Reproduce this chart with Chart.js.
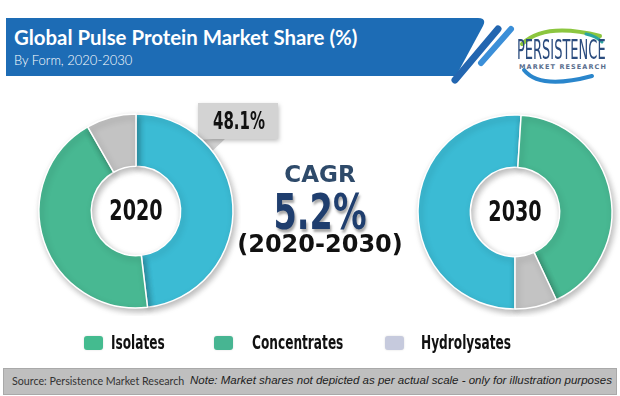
<!DOCTYPE html>
<html>
<head>
<meta charset="utf-8">
<script src="https://cdn.jsdelivr.net/npm/chart.js@4.4.1/dist/chart.umd.min.js"></script>
<style>
  html, body { margin: 0; padding: 0; background: #fff; }
  #wrap { position: relative; width: 620px; height: 396px; overflow: hidden; background: #fff; }
  .abs { position: absolute; white-space: nowrap; }
  canvas.ring { position: absolute; }
  .narrow { font-family: "DejaVu Sans", sans-serif; font-weight: bold; transform-origin: left top; }
  #title { left: 14px; top: 25px; color: #fff; font: bold 20.4px Lato, sans-serif; }
  #subtitle { left: 14px; top: 52px; color: #fff; font: 300 13px Lato, sans-serif; }
  #callout { left: 213px; top: 106px; font-size: 25px; color: #111; transform: scaleX(0.6); }
  #cagr { left: 240px; width: 160px; text-align: center; top: 161px; font: bold 23px "DejaVu Sans", sans-serif; color: #2e4a6a; }
  #rate { left: 240px; width: 160px; text-align: center; top: 183px; font-size: 50px; color: #1f3e6e; text-shadow: 2px 3px 3px rgba(0,0,0,0.35); transform: scaleX(0.67); transform-origin: center top; }
  #period { left: 220px; width: 200px; text-align: center; top: 230px; font: bold 24px "DejaVu Sans", sans-serif; color: #111; }
  .sw { position: absolute; width: 19px; height: 14px; border-radius: 3px; top: 336px; box-shadow: 0 0 2px rgba(0,0,0,0.15); }
  .lg { position: absolute; top: 331px; font-size: 19px; color: #111; transform: scaleX(0.64); }
  #footer { left: 3px; top: 368px; width: 612px; height: 25px; background: #bfbfbf; border: 1px solid #a9a9a9; }
  #src { left: 12px; top: 374px; font: 10.7px Lato, sans-serif; color: #333; }
  #note { left: 190px; top: 374px; font: italic 11.5px "Liberation Sans", sans-serif; color: #222; }
  #logo1 { left: 517px; top: 35px; font-size: 26px; color: #2b4c7e; font-weight: normal; transform: scaleX(0.5); }
  #logo2 { left: 519px; top: 63px; font: bold 6.5px "DejaVu Sans", sans-serif; color: #5a6e8e; letter-spacing: 1.1px; }
</style>
</head>
<body>
<div id="wrap">
  <svg class="abs" style="left:0;top:0" width="620" height="396">
    <path d="M6,18 L478,18 Q487,18 483,26 L456,76 L6,76 Z" fill="#1d6cb5"/>
    <line x1="455" y1="80" x2="498" y2="29" stroke="#2366b0" stroke-width="7" stroke-linecap="round"/>
    <line x1="481" y1="63" x2="511" y2="29" stroke="#3b8fd8" stroke-width="6" stroke-linecap="round"/>
    <path d="M522,44 Q545,22 600,36" fill="none" stroke="#8cc63f" stroke-width="4" stroke-linecap="round"/>
    <path d="M586,34 Q596,36 602,42" fill="none" stroke="#2aa5a0" stroke-width="3" stroke-linecap="round"/>
    <path d="M524,70 Q540,90 592,76" fill="none" stroke="#2a86cc" stroke-width="4" stroke-linecap="round"/>
    <path d="M200,140 L206,157 L226,138 Z" fill="#d3d3d3"/>
    <rect x="198" y="103" width="80" height="36" fill="#d3d3d3" style="filter: drop-shadow(1px 2px 2px rgba(0,0,0,0.25))"/>
  </svg>
  <div id="title" class="abs">Global Pulse Protein Market Share (%)</div>
  <div id="subtitle" class="abs">By Form, 2020-2030</div>
  <div id="logo1" class="abs narrow">PERSISTENCE</div>
  <div id="logo2" class="abs">MARKET RESEARCH</div>

  <canvas id="ring2020" class="ring" width="210" height="210" style="left:31px;top:106px"></canvas>
  <canvas id="ring2030" class="ring" width="210" height="210" style="left:410px;top:107px"></canvas>

  <div id="callout" class="abs narrow">48.1%</div>
  <div id="cagr" class="abs">CAGR</div>
  <div id="rate" class="abs narrow">5.2%</div>
  <div id="period" class="abs">(2020-2030)</div>

  <div class="sw" style="left:84px;background:#44bb8f"></div>
  <div class="lg narrow" style="left:111px">Isolates</div>
  <div class="sw" style="left:214px;background:#47b592"></div>
  <div class="lg narrow" style="left:252px">Concentrates</div>
  <div class="sw" style="left:385px;background:#c6cadd"></div>
  <div class="lg narrow" style="left:421px">Hydrolysates</div>

  <div id="footer" class="abs"></div>
  <div id="src" class="abs">Source: Persistence Market Research</div>
  <div id="note" class="abs">Note: Market shares not depicted as per actual scale - only for illustration purposes</div>
</div>
<script>
  // market share by form (%)
  const categories = ['Isolates', 'Concentrates', 'Hydrolysates'];
  const share2020 = [48.1, 43.6, 8.3];
  const share2030 = [51.0, 42.0, 7.0];
  const sliceColors = ['#3bbbd4', '#48b892', '#c3c3c3'];

  const ringShadow = {
    id: 'ringShadow',
    beforeDatasetsDraw: function (chart) {
      const c = chart.ctx;
      c.save();
      c.shadowColor = 'rgba(0,0,0,0.28)';
      c.shadowBlur = 6;
      c.shadowOffsetX = 2;
      c.shadowOffsetY = 3;
    },
    afterDatasetsDraw: function (chart) {
      chart.ctx.restore();
    }
  };

  // year in the hole, squeezed to look like a condensed face
  const centerLabel = {
    id: 'centerLabel',
    afterDraw: function (chart, args, opts) {
      const arc = chart.getDatasetMeta(0).data[0];
      const c = chart.ctx;
      c.save();
      c.translate(arc.x, arc.y + 1);
      c.scale(0.66, 1);
      c.font = 'bold 29px "DejaVu Sans", sans-serif';
      c.fillStyle = '#111';
      c.textAlign = 'center';
      c.textBaseline = 'middle';
      c.fillText(opts.text, 0, 0);
      c.restore();
    }
  };

  function makeRing(id, values, year, rotation) {
    new Chart(document.getElementById(id), {
      type: 'doughnut',
      data: {
        labels: categories,
        datasets: [{
          data: values,
          backgroundColor: sliceColors,
          borderColor: '#ffffff',
          borderWidth: 1.5,
          hoverOffset: 0
        }]
      },
      options: {
        responsive: false,
        animation: false,
        radius: 97,
        cutout: 48,
        rotation: rotation,
        layout: { padding: 0 },
        plugins: {
          legend: { display: false },
          tooltip: { enabled: false },
          centerLabel: { text: year }
        }
      },
      plugins: [ringShadow, centerLabel]
    });
  }

  makeRing('ring2020', share2020, '2020', 0);
  makeRing('ring2030', share2030, '2030', 180);
</script>
</body>
</html>
